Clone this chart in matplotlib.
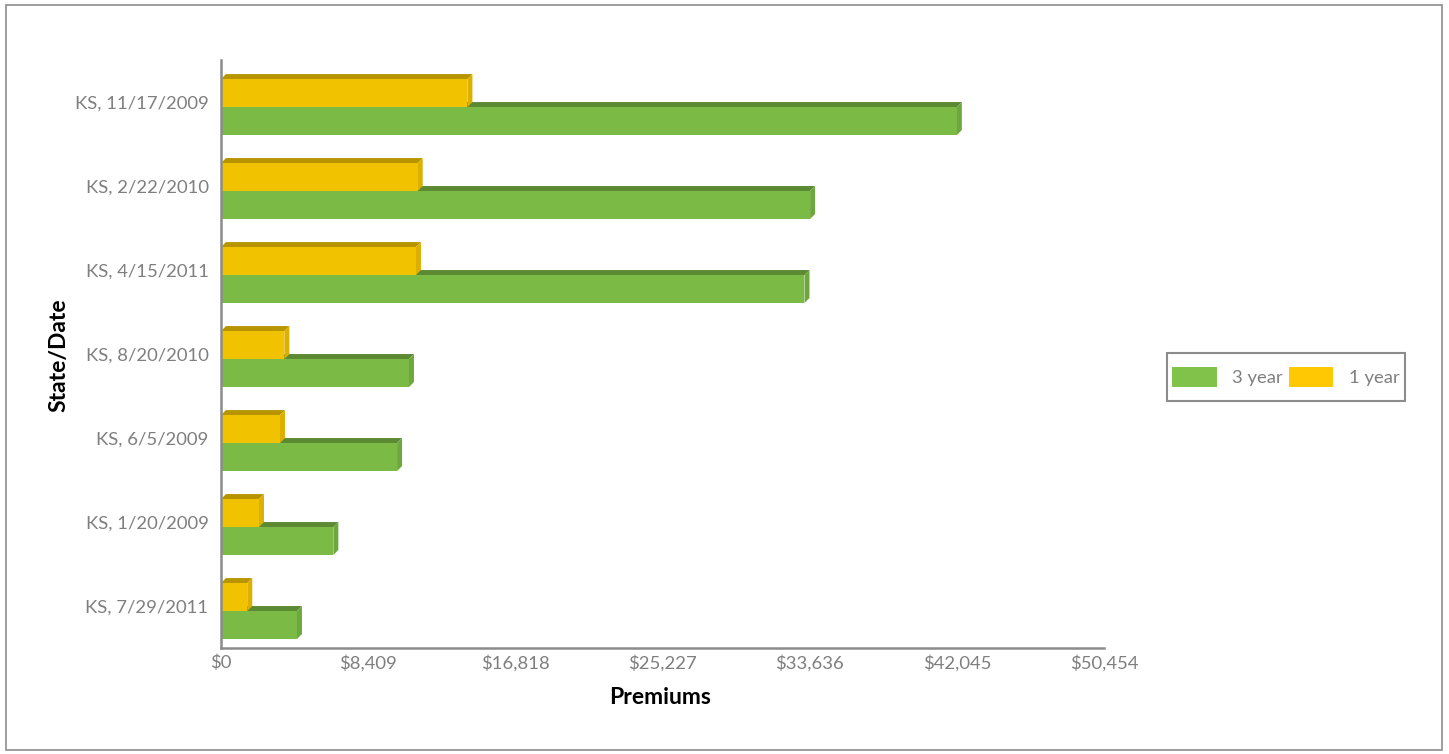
import matplotlib.pyplot as plt
from matplotlib.patches import Polygon, Patch, Rectangle

# premiums per state/date (top to bottom)
labels = ["KS, 11/17/2009", "KS, 2/22/2010", "KS, 4/15/2011", "KS, 8/20/2010",
          "KS, 6/5/2009", "KS, 1/20/2009", "KS, 7/29/2011"]
three_year = [42045, 33660, 33340, 10740, 10060, 6420, 4340]
one_year = [14080, 11240, 11140, 3620, 3370, 2170, 1500]
tick_vals = [0, 8409, 16818, 25227, 33636, 42045, 50454]

plt.rcParams['font.family'] = ['Lato', 'DejaVu Sans']

fig = plt.figure(figsize=(14.49, 7.54), dpi=100)
W, H = 1449, 754
ax = fig.add_axes([221 / W, (H - 648) / H, 883 / W, 588 / H])

xmax = tick_vals[-1]
ax.set_xlim(0, xmax)
ax.set_ylim(len(labels) - 0.5, -0.5)

# depth of the 3d effect, 5 px each way, in data units
dx = 5 / 883 * xmax
dy = 5 / 84
bh = 0.333


def bar3d(y0, val, front, top, side):
    # y0 is the top edge of the front face (inverted axis: smaller = higher)
    y1 = y0 + bh
    ax.add_patch(Polygon([(0, y0), (dx, y0 - dy), (val + dx, y0 - dy), (val, y0)],
                         closed=True, facecolor=top, edgecolor='none'))
    ax.add_patch(Polygon([(val, y0), (val + dx, y0 - dy), (val + dx, y1 - dy), (val, y1)],
                         closed=True, facecolor=side, edgecolor='none'))
    ax.barh(y0 + bh / 2, val, height=bh, left=0, color=front, edgecolor='none')


for i in range(len(labels)):
    bar3d(i + 0.06, three_year[i], '#7CBA46', '#5B8A33', '#6EA73E')
    bar3d(i - 0.273, one_year[i], '#F0C200', '#B89400', '#DDAF00')

ax.set_yticks(range(len(labels)))
ax.set_yticklabels(labels)
ax.set_xticks(tick_vals)
ax.set_xticklabels(['${:,}'.format(v) for v in tick_vals])
ax.tick_params(axis='y', length=0, pad=9, labelsize=13.3, labelcolor='#7F7F7F')
ax.tick_params(axis='x', length=0, pad=5, labelsize=13.3, labelcolor='#7F7F7F')

for s in ['top', 'right']:
    ax.spines[s].set_visible(False)
for s in ['left', 'bottom']:
    ax.spines[s].set_color('#8C8C8C')
    ax.spines[s].set_linewidth(1.8)
    ax.spines[s].set_zorder(5)

ax.set_xlabel('Premiums', fontsize=16.5, fontweight='bold')
ax.set_ylabel('State/Date', fontsize=16.5, fontweight='bold')
ax.xaxis.set_label_coords((660 - 221) / 883, -0.066)
ax.yaxis.set_label_coords(-0.172, (648 - 355) / 588)

# legend entries without frame, box drawn separately
handles = [Patch(facecolor='#80C24A', label='3 year'),
           Patch(facecolor='#FFC800', label='1 year')]
leg = fig.legend(handles=handles, ncol=2, loc='center', fontsize=13.3,
                 bbox_to_anchor=(1286 / W, 1 - 377 / H),
                 handlelength=2.4, handleheight=1.25, handletextpad=0.85,
                 columnspacing=0.3, frameon=False, borderpad=0,
                 borderaxespad=0, labelcolor='#7F7F7F')
fig.patches.append(Rectangle((1167 / W, 1 - 401 / H), 238 / W, 48 / H,
                             transform=fig.transFigure, fill=False,
                             edgecolor='#8C8C8C', linewidth=1.5))

# outer chart border
fig.patches.append(Rectangle((6 / W, 4 / H), 1436 / W, 745 / H, transform=fig.transFigure,
                             fill=False, edgecolor='#8C8C8C', linewidth=1.2))

fig.savefig('out.png', dpi=100)
